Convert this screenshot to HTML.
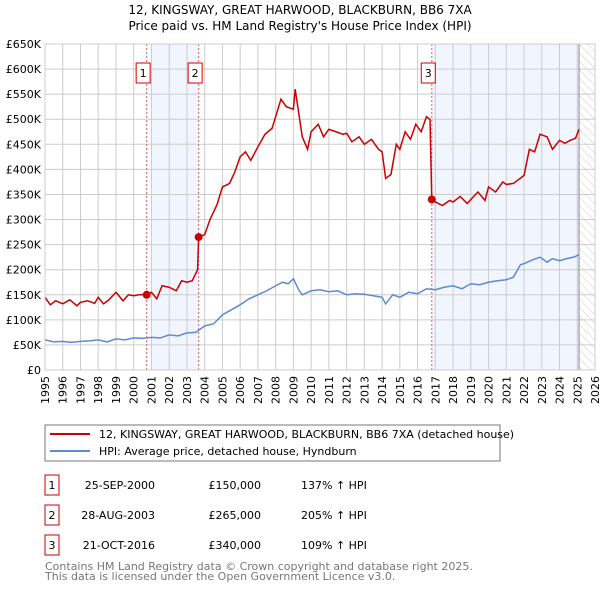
<!DOCTYPE html>
<html><head><meta charset="utf-8"><style>
body{margin:0;background:#fff;font-family:"DejaVu Sans","Liberation Sans",sans-serif;}
svg text{font-family:"DejaVu Sans","Liberation Sans",sans-serif;}
</style></head><body>
<svg id="c" width="600" height="590" xmlns="http://www.w3.org/2000/svg">
<defs><pattern id="hatch" width="6" height="6" patternUnits="userSpaceOnUse" patternTransform="rotate(-45)"><line x1="0" y1="0" x2="0" y2="6" stroke="#ccc" stroke-width="1"/></pattern></defs>
<text x="300" y="14" text-anchor="middle" font-size="12">12, KINGSWAY, GREAT HARWOOD, BLACKBURN, BB6 7XA</text>
<text x="300" y="30" text-anchor="middle" font-size="12">Price paid vs. HM Land Registry's House Price Index (HPI)</text>
<g id="plot"></g>
<g>
<rect x="45" y="425" width="455" height="36" fill="#fff" stroke="#777"/>
<line x1="50" y1="434" x2="90" y2="434" stroke="#cc0000" stroke-width="2"/>
<text x="99" y="438" font-size="11">12, KINGSWAY, GREAT HARWOOD, BLACKBURN, BB6 7XA (detached house)</text>
<line x1="50" y1="451" x2="90" y2="451" stroke="#5b8bd0" stroke-width="2"/>
<text x="99" y="455" font-size="11">HPI: Average price, detached house, Hyndburn</text>
</g>
<g id="table" font-size="11"></g>
<text x="45" y="570" font-size="11" fill="#777">Contains HM Land Registry data © Crown copyright and database right 2025.</text>
<text x="45" y="580" font-size="11" fill="#777">This data is licensed under the Open Government Licence v3.0.</text>
</svg>
<script>
const yearTicks=[1995,1996,1997,1998,1999,2000,2001,2002,2003,2004,2005,2006,2007,2008,2009,2010,2011,2012,2013,2014,2015,2016,2017,2018,2019,2020,2021,2022,2023,2024,2025,2026];
const yTicks=[0,50,100,150,200,250,300,350,400,450,500,550,600,650];
const yTickLabels=["£0","£50K","£100K","£150K","£200K","£250K","£300K","£350K","£400K","£450K","£500K","£550K","£600K","£650K"];
const hpiT=[1995,1995.5,1996,1996.5,1997,1997.5,1998,1998.5,1999,1999.5,2000,2000.5,2001,2001.5,2002,2002.5,2003,2003.5,2004,2004.5,2005,2005.5,2006,2006.5,2007,2007.5,2008,2008.4,2008.7,2009,2009.3,2009.5,2010,2010.5,2011,2011.5,2012,2012.5,2013,2013.5,2014,2014.2,2014.6,2015,2015.5,2016,2016.5,2017,2017.5,2018,2018.5,2019,2019.5,2020,2020.5,2021,2021.4,2021.8,2022,2022.5,2022.9,2023.3,2023.6,2024,2024.4,2024.8,2025.1];
const hpiV=[60,56,57,55,57,58,60,56,62,60,64,63,65,64,70,68,74,75,88,92,110,120,130,142,150,158,168,175,172,182,160,150,158,160,156,158,150,152,151,148,145,132,150,145,155,152,162,160,165,168,162,172,170,175,178,180,185,210,212,220,225,215,222,218,222,225,230];
const redT=[1995,1995.3,1995.6,1996,1996.4,1996.8,1997,1997.4,1997.8,1998,1998.3,1998.6,1999,1999.4,1999.7,2000,2000.3,2000.73,2001,2001.3,2001.6,2002,2002.4,2002.7,2003,2003.3,2003.6,2003.66,2004,2004.3,2004.7,2005,2005.4,2005.7,2006,2006.3,2006.6,2007,2007.4,2007.8,2008,2008.3,2008.6,2009,2009.1,2009.5,2009.8,2010,2010.4,2010.7,2011,2011.4,2011.8,2012,2012.3,2012.7,2013,2013.4,2013.8,2014,2014.2,2014.5,2014.8,2015,2015.3,2015.6,2015.9,2016.2,2016.5,2016.7,2016.8,2017,2017.4,2017.8,2018,2018.4,2018.8,2019,2019.4,2019.8,2020,2020.4,2020.8,2021,2021.4,2021.7,2022,2022.3,2022.6,2022.9,2023.3,2023.6,2024,2024.3,2024.6,2024.9,2025.1];
const redV=[145,130,138,132,140,128,135,138,133,145,132,140,155,138,150,148,150,150,155,142,168,165,158,178,175,178,200,265,270,300,330,365,372,395,425,435,418,445,470,482,505,540,525,520,560,465,440,475,490,465,480,475,470,472,455,465,450,460,440,435,382,390,450,440,475,460,490,475,505,500,340,335,328,338,335,346,332,340,355,338,365,355,375,370,372,380,388,440,435,470,465,440,458,452,458,462,480];
const sales=[{t:2000.73,v:150},{t:2003.66,v:265},{t:2016.8,v:340}];
const X=t=>45+(t-1995)*(550/31), Y=v=>370-v*(326/650);
const NS="http://www.w3.org/2000/svg", g=document.getElementById('plot');
function mk(tag,a,p){const e=document.createElementNS(NS,tag);for(const k in a)e.setAttribute(k,a[k]);(p||g).appendChild(e);return e;}
let r=mk('rect',{x:45,y:44,width:550,height:326,fill:'#fff'});
r=mk('rect',{x:X(2001),y:44,width:X(2003.66)-X(2001),height:326,fill:'#eef3fc',opacity:0.8});


r=mk('rect',{x:X(2016.8),y:44,width:X(2025.1)-X(2016.8),height:326,fill:'#eef3fc',opacity:0.8});


r=mk('rect',{x:X(2025.1),y:44,width:595-X(2025.1),height:326,fill:'url(#hatch)'});


yearTicks.forEach(y=>{const l=mk('line',{x1:X(y),y1:44,x2:X(y),y2:370,stroke:'#ccc'});


const t=mk('text',{x:0,y:0,'font-size':11,'text-anchor':'end',transform:`translate(${X(y)+4},376) rotate(-90)`});t.textContent=y;

});
yTicks.forEach((v,i)=>{const l=mk('line',{x1:45,y1:Y(v),x2:595,y2:Y(v),stroke:'#ccc'});


const t=mk('text',{x:41,y:Y(v)+4,'font-size':11,'text-anchor':'end'});t.textContent=yTickLabels[i];

});
mk('line',{x1:X(2025.1),y1:44,x2:X(2025.1),y2:370,stroke:'#888'});
sales.forEach((s,i)=>{const l=mk('line',{x1:X(s.t),y1:44,x2:X(s.t),y2:370,stroke:'#e06060','stroke-dasharray':'2,2'});


const b=mk('rect',{x:X(s.t)-10.5,y:63,width:14,height:20,fill:'#fff',stroke:'#cc0000'});


const t=mk('text',{x:X(s.t)-3.5,y:77,'font-size':11,'text-anchor':'middle'});t.textContent=i+1;

});
let p=mk('polyline',{points:hpiT.map((t,i)=>X(t)+','+Y(hpiV[i])).join(' '),fill:'none',stroke:'#5b8bd0','stroke-width':1.5});


p=mk('polyline',{points:redT.map((t,i)=>X(t)+','+Y(redV[i])).join(' '),fill:'none',stroke:'#cc0000','stroke-width':1.5});


sales.forEach(s=>{const c=mk('circle',{cx:X(s.t),cy:Y(s.v),r:4,fill:'#cc0000'});

});
mk('rect',{x:45,y:44,width:550,height:326,fill:'none',stroke:'#ccc'});
const tb=document.getElementById('table');
const rows=[["25-SEP-2000","£150,000","137% ↑ HPI"],["28-AUG-2003","£265,000","205% ↑ HPI"],["21-OCT-2016","£340,000","109% ↑ HPI"]];
rows.forEach((rw,i)=>{const y=475+i*30;
const b=mk('rect',{x:45,y:y,width:14,height:20,fill:'#fff',stroke:'#cc0000'},tb);


let t=mk('text',{x:52,y:y+14,'text-anchor':'middle'},tb);t.textContent=i+1;


t=mk('text',{x:155,y:y+14,'text-anchor':'end'},tb);t.textContent=rw[0];


t=mk('text',{x:261,y:y+14,'text-anchor':'end'},tb);t.textContent=rw[1];


t=mk('text',{x:301,y:y+14},tb);t.textContent=rw[2];

});
</script>
</body></html>
